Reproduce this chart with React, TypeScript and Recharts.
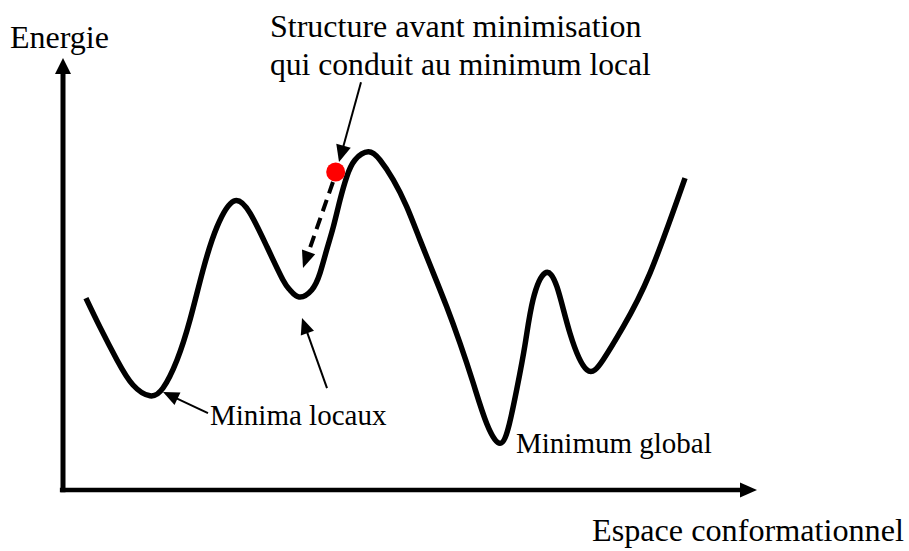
import React from 'react';
import { ComposedChart, Line, XAxis, YAxis, ReferenceLine, ReferenceDot } from 'recharts';

// Energy landscape (abstract units: conformational space 0-100, energy 0-100)
const curveX = [3.31, 5.33, 7.78, 10.09, 12.54, 14.41, 16.43, 18.3, 20.17, 22.19, 24.64, 26.95, 29.39, 31.7, 32.71, 34.01, 35.84, 37.03, 38.0, 38.95, 39.91, 40.88, 42.07, 43.99, 45.68, 47.59, 49.52, 51.44, 53.36, 55.29, 57.2, 59.12, 61.05, 62.97, 64.3, 65.42, 66.57, 67.72, 69.45, 71.18, 73.05, 75.5, 77.81, 80.69, 84.58, 89.63];
const curveY = [44.4, 37.7, 30.1, 24.3, 21.8, 23.6, 30.1, 39.4, 50.9, 60.9, 66.9, 64.1, 56.3, 48.6, 46.3, 44.7, 46.3, 50.2, 55.6, 60.9, 67.1, 72.5, 76.4, 78.3, 76.4, 71.8, 65.6, 57.9, 50.2, 42.4, 34.0, 24.7, 15.4, 10.8, 15.2, 23.6, 33.6, 44.0, 50.2, 47.0, 36.3, 27.8, 30.1, 37.7, 50.2, 72.2];

// Axes (with arrow tips)
const yAxisSeg = [{ x: 0, y: -0.5 }, { x: 0, y: 100 }];
const xAxisSeg = [{ x: -0.45, y: 0 }, { x: 100, y: 0 }];

// Starting structure (red dot)
const startPoint = { x: 39.29, y: 73.6 };

// Annotation arrows: [from, to] in data units
const labelArrow = [{ x: 42.94, y: 94.4 }, { x: 39.77, y: 75.9 }];
const minimizationArrow = [{ x: 38.9, y: 71.3 }, { x: 34.58, y: 51.4 }];
const minimaArrows = [
  [{ x: 20.89, y: 17.8 }, { x: 14.41, y: 22.7 }],
  [{ x: 38.04, y: 23.6 }, { x: 34.44, y: 39.8 }],
];

const texts = {
  yTitle: 'Energie',
  xTitle: 'Espace conformationnel',
  start1: 'Structure avant minimisation',
  start2: 'qui conduit au minimum local',
  local: 'Minima locaux',
  global: 'Minimum global',
};

const data = curveX.map((x, i) => ({ x, y: curveY[i] }));

type ArrowOpts = { sw: number; head: number; headW: number; dash?: string };

const arrowShape = (o: ArrowOpts) => (p: any) => {
  const { x1, y1, x2, y2 } = p;
  const dx = x2 - x1;
  const dy = y2 - y1;
  const len = Math.hypot(dx, dy) || 1;
  const ux = dx / len;
  const uy = dy / len;
  const bx = x2 - ux * o.head;
  const by = y2 - uy * o.head;
  const nx = -uy;
  const ny = ux;
  const hw = o.headW / 2;
  return (
    <g>
      <line x1={x1} y1={y1} x2={bx + ux} y2={by + uy} stroke="#000" strokeWidth={o.sw} strokeDasharray={o.dash} />
      <polygon points={`${x2},${y2} ${bx + nx * hw},${by + ny * hw} ${bx - nx * hw},${by - ny * hw}`} fill="#000" />
    </g>
  );
};

const font = '"Liberation Serif", "Times New Roman", serif';

export default function App() {
  return (
    <div style={{ position: 'absolute', left: 0, top: 0, width: 909, height: 551, background: '#fff' }}>
      <ComposedChart width={909} height={551} data={data} margin={{ top: 58, right: 152, bottom: 61, left: 63 }}>
        <XAxis type="number" dataKey="x" domain={[0, 100]} hide />
        <YAxis type="number" domain={[0, 100]} hide />
        <ReferenceLine segment={yAxisSeg} ifOverflow="visible" shape={arrowShape({ sw: 5, head: 16, headW: 16 })} />
        <ReferenceLine segment={xAxisSeg} ifOverflow="visible" shape={arrowShape({ sw: 4.5, head: 17, headW: 15 })} />
        <Line type="natural" dataKey="y" stroke="#000" strokeWidth={5.5} dot={false} isAnimationActive={false} />
        <ReferenceLine segment={minimizationArrow} shape={arrowShape({ sw: 4, head: 17, headW: 14, dash: '12 7' })} />
        <ReferenceDot x={startPoint.x} y={startPoint.y} r={9.5} fill="#ff0000" stroke="none" />
        <ReferenceLine segment={labelArrow} shape={arrowShape({ sw: 2, head: 17, headW: 15 })} />
        {minimaArrows.map((seg, i) => (
          <ReferenceLine key={i} segment={seg} shape={arrowShape({ sw: 2, head: 16, headW: 14 })} />
        ))}
      </ComposedChart>
      <svg width={909} height={551} style={{ position: 'absolute', left: 0, top: 0, pointerEvents: 'none' }}>
        <g style={{ fontFamily: font }} fill="#000">
          <text x={10} y={48} fontSize={32}>{texts.yTitle}</text>
          <text x={270} y={37} fontSize={32}>{texts.start1}</text>
          <text x={270} y={75} fontSize={31.6}>{texts.start2}</text>
          <text x={210} y={425} fontSize={29}>{texts.local}</text>
          <text x={516} y={453} fontSize={29}>{texts.global}</text>
          <text x={592} y={541} fontSize={32.2}>{texts.xTitle}</text>
        </g>
      </svg>
    </div>
  );
}
